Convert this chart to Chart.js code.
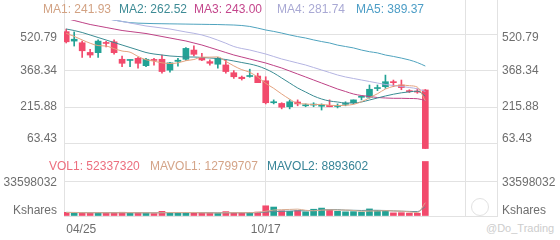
<!DOCTYPE html>
<html><head><meta charset="utf-8">
<script src="https://cdn.jsdelivr.net/npm/chart.js@4.4.1/dist/chart.umd.min.js"></script>
<style>
html,body{margin:0;padding:0;background:#fff;}
#wrap{position:relative;width:560px;height:240px;overflow:hidden;font-family:"Liberation Sans",Arial,Helvetica,sans-serif;}
#c{position:absolute;left:0;top:0;}
.lg{position:absolute;font-size:12px;line-height:14px;white-space:nowrap;}
.wm{position:absolute;color:#cdcdcd;font-size:11px;line-height:13px;white-space:nowrap;}
.logo{position:absolute;left:471px;top:198px;width:16px;height:16px;border:1.5px solid #e2e2e2;border-radius:50%;}
</style></head><body>
<div id="wrap">
<div class="logo"></div>
<div class="wm" style="left:486px;top:222px;">@Do_Trading</div>
<canvas id="c" width="560" height="240"></canvas>
<div id="legend"></div>
</div>
<script>
// ---- data ----
const dates = ['04/25','05/02','05/09','05/16','05/23','05/30','06/06','06/13','06/20','06/27',
 '07/04','07/11','07/18','07/25','08/01','08/08','08/15','08/22','08/29','09/05',
 '09/12','09/19','09/26','10/03','10/10','10/17','10/24','10/31','11/07','11/14',
 '11/21','11/28','12/05','12/12','12/19','12/26','01/02','01/09','01/16','01/23',
 '01/30','02/06','02/13','02/20','02/27','03/06'];
const opens  = [535,495,488,447,446,489,492,418,413,422,391,416,418,372,409,418,457,426,408,397,394,361,342,345,347,327,234,231,217,237,221,224,219,223,218,227,234,257,257,294,302,323,309,285,283,288];
const closes = [492,503,454,436,495,485,446,401,415,401,418,413,366,403,414,464,439,415,401,422,366,344,336,347,319,234,238,215,238,229,223,226,221,217,221,231,246,259,291,298,323,319,298,281,279,40];
const highs  = [546,534,495,460,500,494,500,432,416,426,422,422,436,405,422,468,475,443,416,426,415,370,347,376,359,344,246,234,246,246,229,234,229,246,229,238,246,263,309,309,351,330,330,289,293,290];
const lows   = [487,474,426,426,426,470,440,387,387,380,387,393,359,363,389,413,432,412,393,380,359,337,330,342,319,229,229,208,208,221,217,217,203,217,212,221,229,246,253,285,295,302,289,277,274,40];
const volumes = [3500000,3000000,3200000,2800000,3400000,3000000,3300000,3600000,2600000,3200000,
 3000000,2400000,4500000,3500000,3000000,3200000,2800000,2900000,3000000,2600000,
 4200000,3100000,3000000,3300000,3800000,9800000,8600000,5000000,4500000,5200000,
 4000000,6500000,7600000,6000000,4500000,4000000,4200000,3800000,6800000,5500000,
 5000000,3000000,3200000,2800000,2700000,52337320];
const ma1 = [528,515,500,486,476,474,463,453,448,430,416,410,403,400,403,412,417,427,427,428,409,390,374,363,342,316,295,271,249,231,229,226,227,223,222,223,227,238,255,272,292,303,309,306,300,241.93];
const ma2 = [546.2,539.8,531.4,520.8,510.2,499.6,489.0,478.4,467.9,457.3,446.7,440.3,436.1,431.9,429.8,427.6,427.6,425.5,423.4,421.3,417.0,410.7,404.3,398.0,389.5,376.8,359.9,338.7,317.5,296.4,279.4,262.5,249.8,241.3,237.1,232.9,232.9,237.1,245.5,254.0,262.5,270,276,280,283,262.52];
const ma3 = [590.7,582.2,573.7,565.3,558.9,552.6,546.2,539.9,535.6,531.4,527.1,520.8,514.4,508.1,501.7,495.4,486.9,478.4,467.9,457.3,446.7,436.1,427.6,419.2,410.7,402.2,391.6,381.0,368.3,355.6,343.0,330.2,317.5,304.8,292.1,281.5,270.9,264.6,260.4,256.1,254.0,252.7,252.7,251.9,251,243.00];
const ma4 = [614,607.6,601.3,597.0,592.8,588.6,584.3,578.0,571.6,565.3,558.9,554.7,550.4,546.2,539.8,533.5,528,521,511,499,486,472.1,463.6,457.3,448.8,440.3,429.8,419.2,410.7,402.2,393.7,383.2,372.6,362.0,351.4,343.0,336.6,330.2,323.9,317.5,311.2,306.9,302.7,298.5,293,281.74];
const ma5 = [640,630,620,610,600,592,584,578,573,571,570,569,568.5,568,567.5,567,566.5,566,565.5,565,564,563,561,557,550,542,536,529,521,514,508,500,493,487,478,472,466,457,450,445,436,430,423,415,404,389.37];
const mavol1 = [3400000,3300000,3200000,3100000,3200000,3100000,3100000,3200000,3200000,3100000,
 3100000,3000000,3100000,3300000,3300000,3300000,3400000,3100000,3000000,2900000,
 3100000,3200000,3200000,3200000,3500000,4600000,5700000,6100000,6300000,6600000,
 5500000,5000000,5600000,5900000,5700000,5700000,5300000,4500000,4700000,4800000,
 5100000,4800000,4700000,3900000,3300000,12799707];
const mavol2 = [3500000,3400000,3300000,3200000,3200000,3200000,3200000,3200000,3200000,3100000,
 3100000,3100000,3200000,3200000,3200000,3200000,3200000,3200000,3100000,3100000,
 3100000,3100000,3100000,3100000,3200000,3800000,4300000,4500000,4700000,5000000,
 5000000,5300000,5800000,6100000,6100000,5600000,5500000,5300000,5500000,5400000,
 5300000,4900000,4600000,4400000,4200000,8893602];
const priceTicks = [63.43, 215.88, 368.34, 520.79];
const volTicks = [0, 33598032];
const volTickLabels = ['Kshares', '33598032'];
const xTickIndexes = [0, 25, 50];

// ---- style ----
const F = '"Liberation Sans", Arial, sans-serif';
const UP = '#22A295', DOWN = '#F24A6C', GRID = '#E2E2E2', TXT = '#6E6E6E';
const maNames = ['MA1','MA2','MA3','MA4','MA5'];
const maSeries = [ma1, ma2, ma3, ma4, ma5];
const maLine = ['#E4A27E','#3B8C93','#BE4286','#B4B4E2','#4FA3BE'];
const maText = ['#D2A283','#3D8B95','#C4468C','#A9A9D4','#4C9DC6'];
const maLegendX = [43, 119, 194, 277, 356];
const volLegend = [
  {t: 'VOL1: ' + volumes[volumes.length-1], c: '#EC6E7E', x: 49},
  {t: 'MAVOL1: ' + mavol1[mavol1.length-1], c: '#D4A488', x: 150},
  {t: 'MAVOL2: ' + mavol2[mavol2.length-1], c: '#378497', x: 267}
];

// legends (real text)
const lg = document.getElementById('legend');
maNames.forEach((n, k) => {
  const s = document.createElement('span');
  s.className = 'lg'; s.style.left = maLegendX[k] + 'px'; s.style.top = '2px'; s.style.color = maText[k];
  s.textContent = n + ': ' + maSeries[k][maSeries[k].length-1].toFixed(2);
  lg.appendChild(s);
});
volLegend.forEach(v => {
  const s = document.createElement('span');
  s.className = 'lg'; s.style.left = v.x + 'px'; s.style.top = '159px'; s.style.color = v.c;
  s.textContent = v.t; lg.appendChild(s);
});

const idx = dates.map((_, i) => i);
const cColor = idx.map(i => closes[i] >= opens[i] ? UP : DOWN);

// axis ranges (pixel layout: price panel 150px, volume panel 66px)
const PRICE_MAX = 669.0, PRICE_MIN = 33.79;
const VOL_MAX = 63356860;

const priceShift = new Map([[520.79, 3], [63.43, -4]]);
const volShift = new Map([[0, -5], [33598032, 1.5]]);
function shifted(v, text, m) { const s = m.get(v); if (!s) return text; return s > 0 ? ['', text] : [text, '']; }
function tickFont(ctx, m) { const v = ctx.tick ? ctx.tick.value : NaN; const s = m.get(v); return {family: F, size: 12, lineHeight: s ? (Math.abs(s) * 2) + 'px' : 1.2}; }

function priceAxis(pos) {
  return {
    type: 'linear', position: pos, stack: 'panel', stackWeight: 150, min: PRICE_MIN, max: PRICE_MAX,
    afterBuildTicks: s => { s.ticks = priceTicks.map(v => ({value: v})); },
    ticks: { padding: pos === 'left' ? 7 : 5, color: TXT, autoSkip: false,
      font: ctx => tickFont(ctx, priceShift), callback: v => shifted(v, v.toFixed(2), priceShift) },
    grid: { color: GRID, drawTicks: false }, border: { color: GRID },
    afterFit: s => { s.width = pos === 'left' ? 64 : 63; s.paddingTop = 0; s.paddingBottom = 0; }
  };
}
function volAxis(pos) {
  return {
    type: 'linear', position: pos, stack: 'panel', stackWeight: 66, min: 0, max: VOL_MAX,
    afterBuildTicks: s => { s.ticks = volTicks.map(v => ({value: v})); },
    ticks: { padding: pos === 'left' ? 7 : 5, color: TXT, autoSkip: false,
      font: ctx => tickFont(ctx, volShift), callback: v => shifted(v, volTickLabels[volTicks.indexOf(v)], volShift) },
    grid: { color: GRID, drawTicks: false }, border: { color: GRID },
    afterFit: s => { s.width = pos === 'left' ? 64 : 63; s.paddingTop = 0; s.paddingBottom = 0; }
  };
}

const lineClip = {left: 0, top: -20, right: 0, bottom: 0};
const datasets = [
  {type: 'bar', label: 'wick', yAxisID: 'yP', grouped: false, order: 3, barThickness: 1,
   data: idx.map(i => ({x: i, y: [lows[i], highs[i]]})), backgroundColor: cColor},
  {type: 'bar', label: 'body', yAxisID: 'yP', grouped: false, order: 2, barThickness: 6, minBarLength: 1,
   data: idx.map(i => ({x: i, y: [opens[i], closes[i]]})), backgroundColor: cColor},
  {type: 'bar', label: 'VOL1', yAxisID: 'yV', grouped: false, order: 2, barThickness: 6,
   data: idx.map(i => ({x: i, y: volumes[i]})), backgroundColor: cColor},
];
maSeries.forEach((s, k) => datasets.push({
  type: 'line', label: maNames[k], yAxisID: 'yP', order: 0, clip: lineClip,
  data: idx.map(i => ({x: i, y: s[i]})), borderColor: maLine[k], borderWidth: 1,
  pointRadius: 0, cubicInterpolationMode: 'monotone'
}));
[[mavol1, '#D9AD92'], [mavol2, '#5E8E99']].forEach(([s, c], k) => datasets.push({
  type: 'line', label: 'MAVOL' + (k + 1), yAxisID: 'yV', order: 0,
  data: idx.map(i => ({x: i, y: s[i]})), borderColor: c, borderWidth: 1,
  pointRadius: 0, cubicInterpolationMode: 'monotone'
}));

new Chart(document.getElementById('c'), {
  data: { datasets },
  options: {
    responsive: false, animation: false, events: [],
    layout: { padding: 0 },
    plugins: { legend: { display: false }, tooltip: { enabled: false } },
    scales: {
      x: {
        type: 'linear', position: 'bottom', min: -0.276, max: 53.98, offset: false,
        afterBuildTicks: s => { s.ticks = xTickIndexes.map(v => ({value: v})); },
        ticks: { align: 'inner', padding: 6, color: TXT, maxRotation: 0, autoSkip: false,
          font: {family: F, size: 12}, callback: v => dates[v] || '' },
        grid: { offset: false, color: ctx => (ctx.tick && ctx.tick.value === 0) ? 'rgba(0,0,0,0)' : GRID, drawTicks: false },
        border: { color: GRID },
        afterFit: s => { s.height = 24; s.paddingLeft = 0; s.paddingRight = 0; }
      },
      yV: volAxis('left'),
      yP: priceAxis('left'),
      yP2: priceAxis('right'),
      yV2: volAxis('right')
    }
  }
});
</script>
</body></html>
